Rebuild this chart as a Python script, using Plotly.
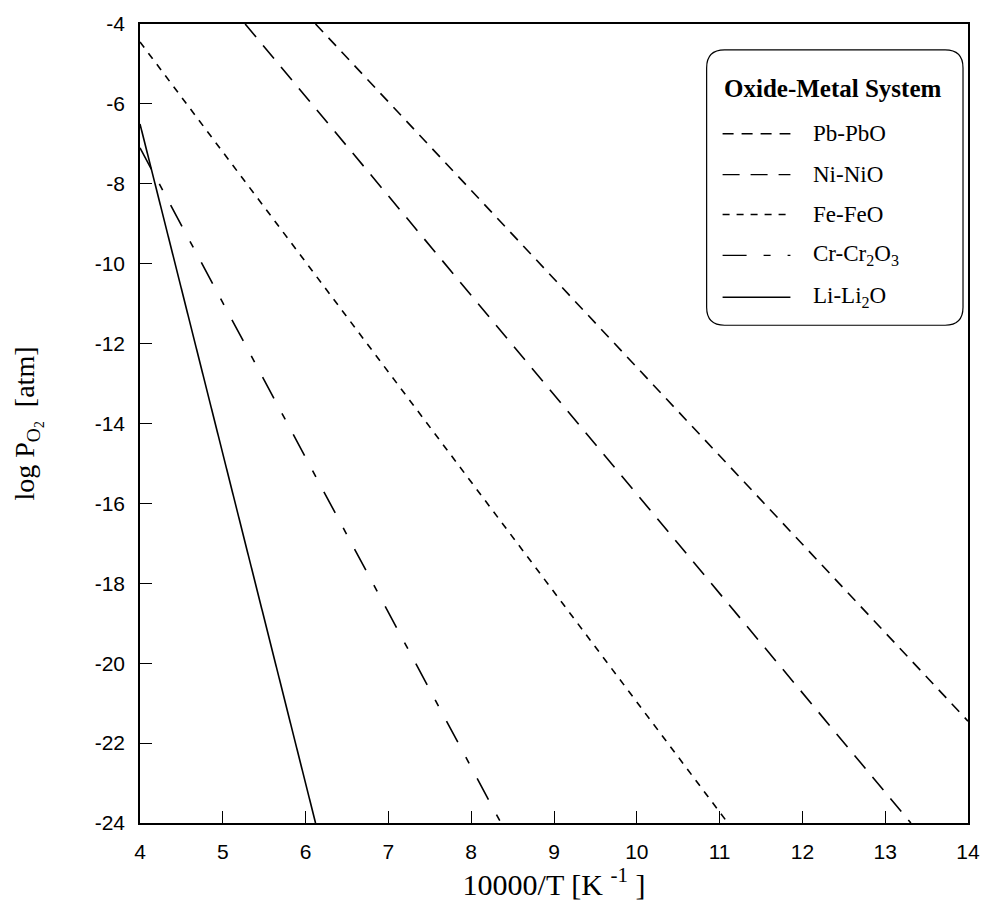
import plotly.graph_objects as go

# Oxygen partial pressure of metal/oxide equilibria versus inverse temperature
systems = ["Pb-PbO", "Ni-NiO", "Fe-FeO", "Cr-Cr<sub>2</sub>O<sub>3</sub>", "Li-Li<sub>2</sub>O"]

pb_x = [6.12, 14.0]
pb_y = [-4.0, -21.45]
ni_x = [5.27, 13.31]
ni_y = [-4.0, -24.0]
fe_x = [4.0, 11.1]
fe_y = [-4.45, -24.0]
cr_x = [4.0, 8.36]
cr_y = [-7.1, -24.0]
li_x = [4.0, 6.12]
li_y = [-6.5, -24.0]

x_ticks = [4, 5, 6, 7, 8, 9, 10, 11, 12, 13, 14]
y_ticks = [-4, -6, -8, -10, -12, -14, -16, -18, -20, -22, -24]

series_x = [pb_x, ni_x, fe_x, cr_x, li_x]
series_y = [pb_y, ni_y, fe_y, cr_y, li_y]
dashes = ["11px,8px", "17px,11px", "7px,7px", "24px,17px,7px,17px", "solid"]

fig = go.Figure()
for name, xs, ys, d in zip(systems, series_x, series_y, dashes):
    fig.add_trace(go.Scatter(
        x=xs, y=ys, mode="lines", name=name, showlegend=False,
        line=dict(color="black", width=1.6, dash=d),
    ))

# plot area in pixels (used to place the hand-drawn legend box)
L, R, T, B = 140, 970, 22, 823
def px(x):
    return (x - L) / (R - L)
def py(y):
    return (B - y) / (B - T)

serif = "Liberation Serif"

# rounded legend frame
x0, x1, y0, y1, r = 708, 965, 48, 324, 18
path = (
    f"M {px(x0 + r)},{py(y0)} L {px(x1 - r)},{py(y0)} "
    f"Q {px(x1)},{py(y0)} {px(x1)},{py(y0 + r)} "
    f"L {px(x1)},{py(y1 - r)} Q {px(x1)},{py(y1)} {px(x1 - r)},{py(y1)} "
    f"L {px(x0 + r)},{py(y1)} Q {px(x0)},{py(y1)} {px(x0)},{py(y1 - r)} "
    f"L {px(x0)},{py(y0 + r)} Q {px(x0)},{py(y0)} {px(x0 + r)},{py(y0)} Z"
)
shapes = [dict(type="path", xref="paper", yref="paper", path=path,
               line=dict(color="black", width=1.2), fillcolor="white", layer="above")]
annotations = [dict(xref="paper", yref="paper", x=px(834), y=py(87),
                    xanchor="center", yanchor="middle",
                    text="<b>Oxide-Metal System</b>", showarrow=False,
                    font=dict(family=serif, size=25, color="black"))]
item_y = [132, 173, 213, 254, 296]
for name, d, yy in zip(systems, dashes, item_y):
    shapes.append(dict(type="line", xref="paper", yref="paper",
                       x0=px(724), x1=px(792), y0=py(yy), y1=py(yy),
                       line=dict(color="black", width=1.4, dash=d), layer="above"))
    annotations.append(dict(xref="paper", yref="paper", x=px(813), y=py(yy),
                            xanchor="left", yanchor="middle",
                            text=name, showarrow=False,
                            font=dict(family=serif, size=23, color="black")))

axis_common = dict(
    showline=True, linecolor="black", linewidth=1.6, mirror=True,
    ticks="inside", ticklen=12, tickwidth=1.4, tickcolor="black",
    showgrid=False, zeroline=False, ticklabelstandoff=9,
    tickfont=dict(family="Liberation Sans", size=21, color="black"),
)

fig.update_layout(
    width=992, height=911,
    margin=dict(l=L, r=992 - R, t=T, b=911 - B),
    paper_bgcolor="white", plot_bgcolor="white",
    xaxis=dict(range=[4, 14], tickvals=x_ticks, ticktext=[str(v) for v in x_ticks],
               title=dict(text="10000/T [K <sup>-1</sup> ]", standoff=5,
                          font=dict(family=serif, size=30, color="black")),
               **axis_common),
    yaxis=dict(range=[-24, -4], tickvals=y_ticks, ticktext=[str(v) for v in y_ticks],
               title=dict(text="log P<sub>O<sub>2</sub></sub>  [atm]", standoff=52,
                          font=dict(family=serif, size=28, color="black")),
               **axis_common),
    shapes=shapes, annotations=annotations,
)

fig.write_html("out.html")
